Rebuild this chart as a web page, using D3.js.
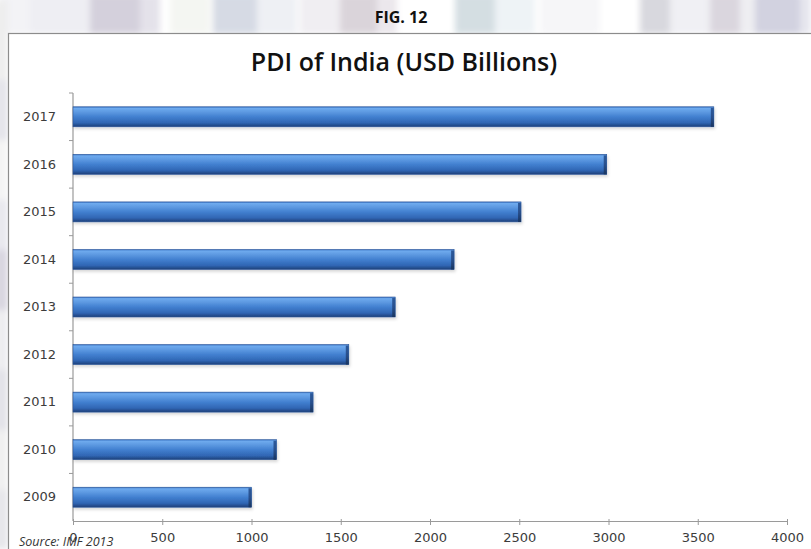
<!DOCTYPE html>
<html>
<head>
<meta charset="utf-8">
<script src="https://cdn.jsdelivr.net/npm/d3@7"></script>
<style>
  html, body { margin: 0; padding: 0; background: #fff; }
  svg { display: block; }
</style>
</head>
<body>
<svg id="chart" width="811" height="549"></svg>
<script>
// Chart data
const years = ["2017", "2016", "2015", "2014", "2013", "2012", "2011", "2010", "2009"];
const pdiValues = [3590, 2990, 2510, 2135, 1805, 1545, 1345, 1140, 1000];
const xTickValues = [0, 500, 1000, 1500, 2000, 2500, 3000, 3500, 4000];
const chartTitle = "PDI of India (USD Billions)";
const figureLabel = "FIG. 12";
const sourceNote = "Source: IMF 2013";

const svg = d3.select("#chart");
const W = 811, H = 549;
const defs = svg.append("defs");

// Soft blur for the faded page texture behind the figure
defs.append("filter").attr("id", "soft")
  .attr("x", "-20%").attr("y", "-20%").attr("width", "140%").attr("height", "140%")
  .append("feGaussianBlur").attr("stdDeviation", 3);

// Bar shading: light top edge, mid blue body, dark lower edge
const grad = defs.append("linearGradient").attr("id", "barFill")
  .attr("x1", 0).attr("y1", 0).attr("x2", 0).attr("y2", 1);
[[0, "#3a73c2"], [0.08, "#6eaaee"], [0.25, "#5e9ae2"], [0.5, "#4280d0"],
 [0.8, "#3066b4"], [1, "#1e3f78"]].forEach(([o, c]) =>
  grad.append("stop").attr("offset", o).attr("stop-color", c));

const capGrad = defs.append("linearGradient").attr("id", "capFill")
  .attr("x1", 0).attr("y1", 0).attr("x2", 0).attr("y2", 1);
[[0, "#2d5a9c"], [0.5, "#284f8c"], [1, "#1a355f"]].forEach(([o, c]) =>
  capGrad.append("stop").attr("offset", o).attr("stop-color", c));

const shadow = defs.append("filter").attr("id", "barShadow")
  .attr("x", "-5%").attr("y", "-30%").attr("width", "110%").attr("height", "180%");
shadow.append("feDropShadow").attr("dx", 1).attr("dy", 2)
  .attr("stdDeviation", 1.8).attr("flood-color", "#000").attr("flood-opacity", 0.16);

// Faded page texture above and left of the figure frame
function drawPageTexture() {
  const g = svg.append("g").attr("filter", "url(#soft)");
  const cols = [
    [0, 30, "#f3f3f6"], [30, 60, "#eeeef3"], [90, 50, "#d4d0dc"], [140, 20, "#e4e2ea"],
    [170, 40, "#f4f6f2"], [213, 44, "#d6dae4"], [257, 40, "#eef0f4"], [300, 40, "#f0eef2"],
    [340, 37, "#dad4da"], [377, 20, "#ebe7ec"], [455, 40, "#d4dee2"], [495, 40, "#eef3f6"],
    [540, 60, "#f6f6f8"], [640, 30, "#d8d8de"], [670, 40, "#f0f0f4"], [710, 30, "#dad6de"],
    [740, 15, "#eeeef2"], [755, 45, "#d2d2e0"], [800, 11, "#e6e6ee"]
  ];
  cols.forEach(([x, w, c]) => g.append("rect")
    .attr("x", x).attr("y", -6).attr("width", w).attr("height", 40).attr("fill", c));
  const side = [[0, 80, "#eeeeee"], [80, 60, "#e4e4ea"], [140, 60, "#f4f4f4"],
    [200, 50, "#e8e8ee"], [250, 60, "#d8d6e0"], [310, 60, "#ededf0"],
    [370, 60, "#e2e2e8"], [430, 60, "#f0f0f0"], [490, 59, "#e6e6ea"]];
  side.forEach(([y, h, c]) => g.append("rect")
    .attr("x", -6).attr("y", y).attr("width", 14).attr("height", h).attr("fill", c));
}
drawPageTexture();

// Figure caption above the frame
svg.append("text")
  .attr("x", 401).attr("y", 23)
  .attr("text-anchor", "middle")
  .style("font-family", "'Open Sans', 'Liberation Sans', sans-serif")
  .style("font-weight", 700).style("font-size", "16px")
  .attr("fill", "#111")
  .text(figureLabel);

// Chart frame
svg.append("rect")
  .attr("x", 8.5).attr("y", 33.5).attr("width", W + 10).attr("height", H)
  .attr("fill", "#fff").attr("stroke", "#8c8c8c").attr("stroke-width", 1.2);

// Title
svg.append("text")
  .attr("x", 404).attr("y", 71)
  .attr("text-anchor", "middle")
  .style("font-family", "'Open Sans', 'Liberation Sans', sans-serif")
  .style("font-weight", 600).style("font-size", "25px")
  .attr("fill", "#111")
  .text(chartTitle);

// Scales
const x = d3.scaleLinear().domain([0, 4000]).range([73, 787]);
const y = d3.scaleBand().domain(years).range([93, 521])
  .paddingInner(0.58).paddingOuter(0.29);

const labelFont = "'DejaVu Sans', 'Verdana', sans-serif";

// Horizontal (value) axis
const xAxis = svg.append("g")
  .attr("transform", `translate(0,${521})`)
  .call(d3.axisBottom(x).tickValues(xTickValues).tickFormat(d3.format("d"))
    .tickSize(4).tickPadding(8).tickSizeOuter(0));
xAxis.select(".domain").attr("stroke", "#9a9a9a").attr("stroke-width", 1.2);
xAxis.selectAll(".tick line").attr("stroke", "#9a9a9a").attr("y1", -2);
xAxis.selectAll(".tick text")
  .style("font-family", labelFont).style("font-size", "13px").attr("fill", "#3c3c3c");

// Vertical (category) axis: labels centred on bars, ticks on band boundaries
const yAxis = svg.append("g")
  .attr("transform", `translate(${73},0)`)
  .call(d3.axisLeft(y).tickSize(0).tickPadding(17));
yAxis.select(".domain").remove();
yAxis.selectAll(".tick text")
  .style("font-family", labelFont).style("font-size", "13px").attr("fill", "#3c3c3c");

const yTop = y.range()[0];
svg.append("line")
  .attr("x1", 73).attr("x2", 73).attr("y1", yTop).attr("y2", 521)
  .attr("stroke", "#9a9a9a").attr("stroke-width", 1.2);
svg.append("g").selectAll("line")
  .data(d3.range(years.length))
  .join("line")
  .attr("x1", 69).attr("x2", 73)
  .attr("y1", i => yTop + i * y.step())
  .attr("y2", i => yTop + i * y.step())
  .attr("stroke", "#9a9a9a");

// Bars
const rows = years.map((yr, i) => ({ year: yr, value: pdiValues[i] }));
const bars = svg.append("g").selectAll("g")
  .data(rows)
  .join("g")
  .attr("filter", "url(#barShadow)");

bars.append("rect")
  .attr("x", x(0))
  .attr("y", d => y(d.year))
  .attr("width", d => x(d.value) - x(0))
  .attr("height", y.bandwidth())
  .attr("fill", "url(#barFill)")
  .attr("stroke", "#2a5599").attr("stroke-width", 0.6);

// Bevelled end cap
bars.append("rect")
  .attr("x", d => x(d.value) - 3)
  .attr("y", d => y(d.year) + 1)
  .attr("width", 3)
  .attr("height", y.bandwidth() - 1)
  .attr("fill", "url(#capFill)");

// Source note
svg.append("text")
  .attr("x", 19).attr("y", 546)
  .style("font-family", "'Open Sans', 'Liberation Sans', sans-serif")
  .style("font-style", "italic").style("font-size", "12.5px")
  .attr("fill", "#333")
  .text(sourceNote);
</script>
</body>
</html>
